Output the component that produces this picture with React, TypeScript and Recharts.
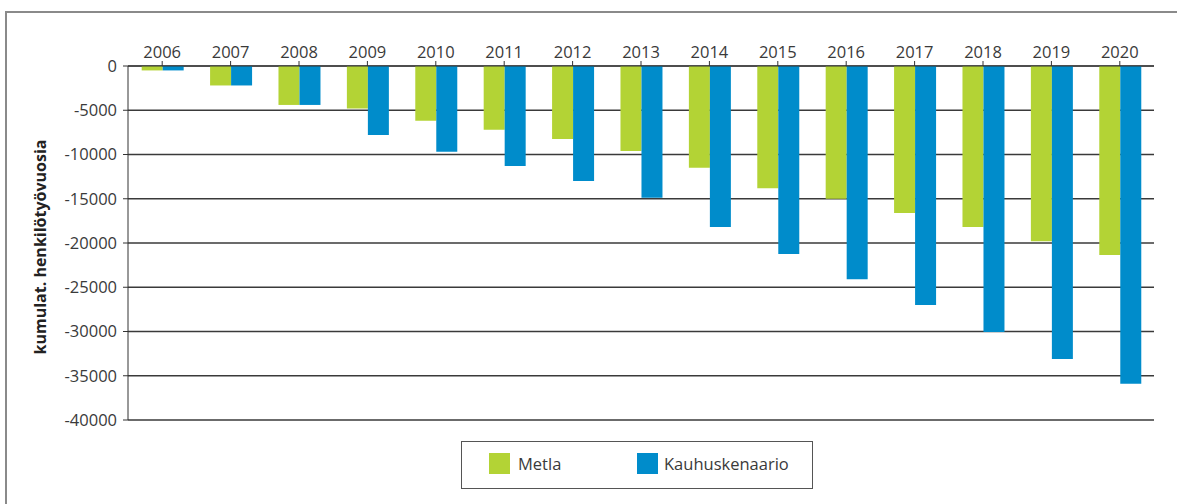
import React from "react";
import { BarChart, Bar, XAxis, YAxis, CartesianGrid } from "recharts";

const years = ["2006", "2007", "2008", "2009", "2010", "2011", "2012", "2013", "2014", "2015", "2016", "2017", "2018", "2019", "2020"];
const metla = [-500, -2200, -4400, -4800, -6200, -7200, -8250, -9600, -11500, -13800, -15000, -16600, -18200, -19800, -21350];
const kauhuskenaario = [-500, -2200, -4400, -7800, -9700, -11300, -13000, -14900, -18200, -21250, -24100, -27000, -30050, -33100, -35900];
const yTicks = [0, -5000, -10000, -15000, -20000, -25000, -30000, -35000, -40000];

const GREEN = "#b3d335";
const BLUE = "#008ccb";
const FONT = "'Open Sans', sans-serif";

const data = years.map((y, i) => ({
  year: y,
  metla: metla[i],
  kauhu: kauhuskenaario[i],
}));

function App() {
  return (
    <div
      style={{
        position: "absolute",
        left: 0,
        top: 0,
        width: 1177,
        height: 504,
        background: "#fff",
        fontFamily: FONT,
        overflow: "hidden",
      }}
    >
      {/* outer frame */}
      <div
        style={{
          position: "absolute",
          left: 5,
          top: 11,
          width: 1200,
          height: 600,
          border: "2px solid #8a8a8a",
        }}
      />
      <BarChart
        width={1177}
        height={504}
        data={data}
        margin={{ top: 36, right: 23, left: 68, bottom: 84 }}
        barCategoryGap="20%"
        barGap={0}
        style={{ position: "absolute", left: 0, top: 0 }}
      >
        <CartesianGrid vertical={false} stroke="#3a3a3a" strokeWidth={1.4} />
        <XAxis
          dataKey="year"
          orientation="top"
          height={30}
          stroke="#333"
          tickSize={5}
          tickMargin={3}
          tick={{ fill: "#3a3a3a", fontSize: 16.5, fontFamily: FONT }}
          interval={0}
        />
        <YAxis
          width={60}
          domain={[-40000, 0]}
          ticks={yTicks}
          stroke="#333"
          tickSize={5}
          tickMargin={6}
          tick={{ fill: "#3a3a3a", fontSize: 16.5, fontFamily: FONT }}
          interval={0}
        />
        <Bar dataKey="metla" fill={GREEN} isAnimationActive={false} />
        <Bar dataKey="kauhu" fill={BLUE} isAnimationActive={false} />
      </BarChart>
      {/* y-axis title */}
      <div
        style={{
          position: "absolute",
          left: 40,
          top: 247,
          transform: "translate(-50%, -50%) rotate(-90deg)",
          whiteSpace: "nowrap",
          fontWeight: 700,
          fontSize: 16,
          color: "#222",
        }}
      >
        kumulat. henkilötyövuosia
      </div>
      {/* legend */}
      <div
        style={{
          position: "absolute",
          left: 461,
          top: 441,
          width: 350,
          height: 46,
          border: "1.5px solid #555",
          fontSize: 16.5,
          color: "#3a3a3a",
        }}
      >
        <div style={{ position: "absolute", left: 27, top: 11, width: 21, height: 21, background: GREEN }} />
        <div style={{ position: "absolute", left: 56, top: 10, lineHeight: "24px" }}>Metla</div>
        <div style={{ position: "absolute", left: 175, top: 11, width: 21, height: 21, background: BLUE }} />
        <div style={{ position: "absolute", left: 202, top: 10, lineHeight: "24px" }}>Kauhuskenaario</div>
      </div>
    </div>
  );
}

export default App;
